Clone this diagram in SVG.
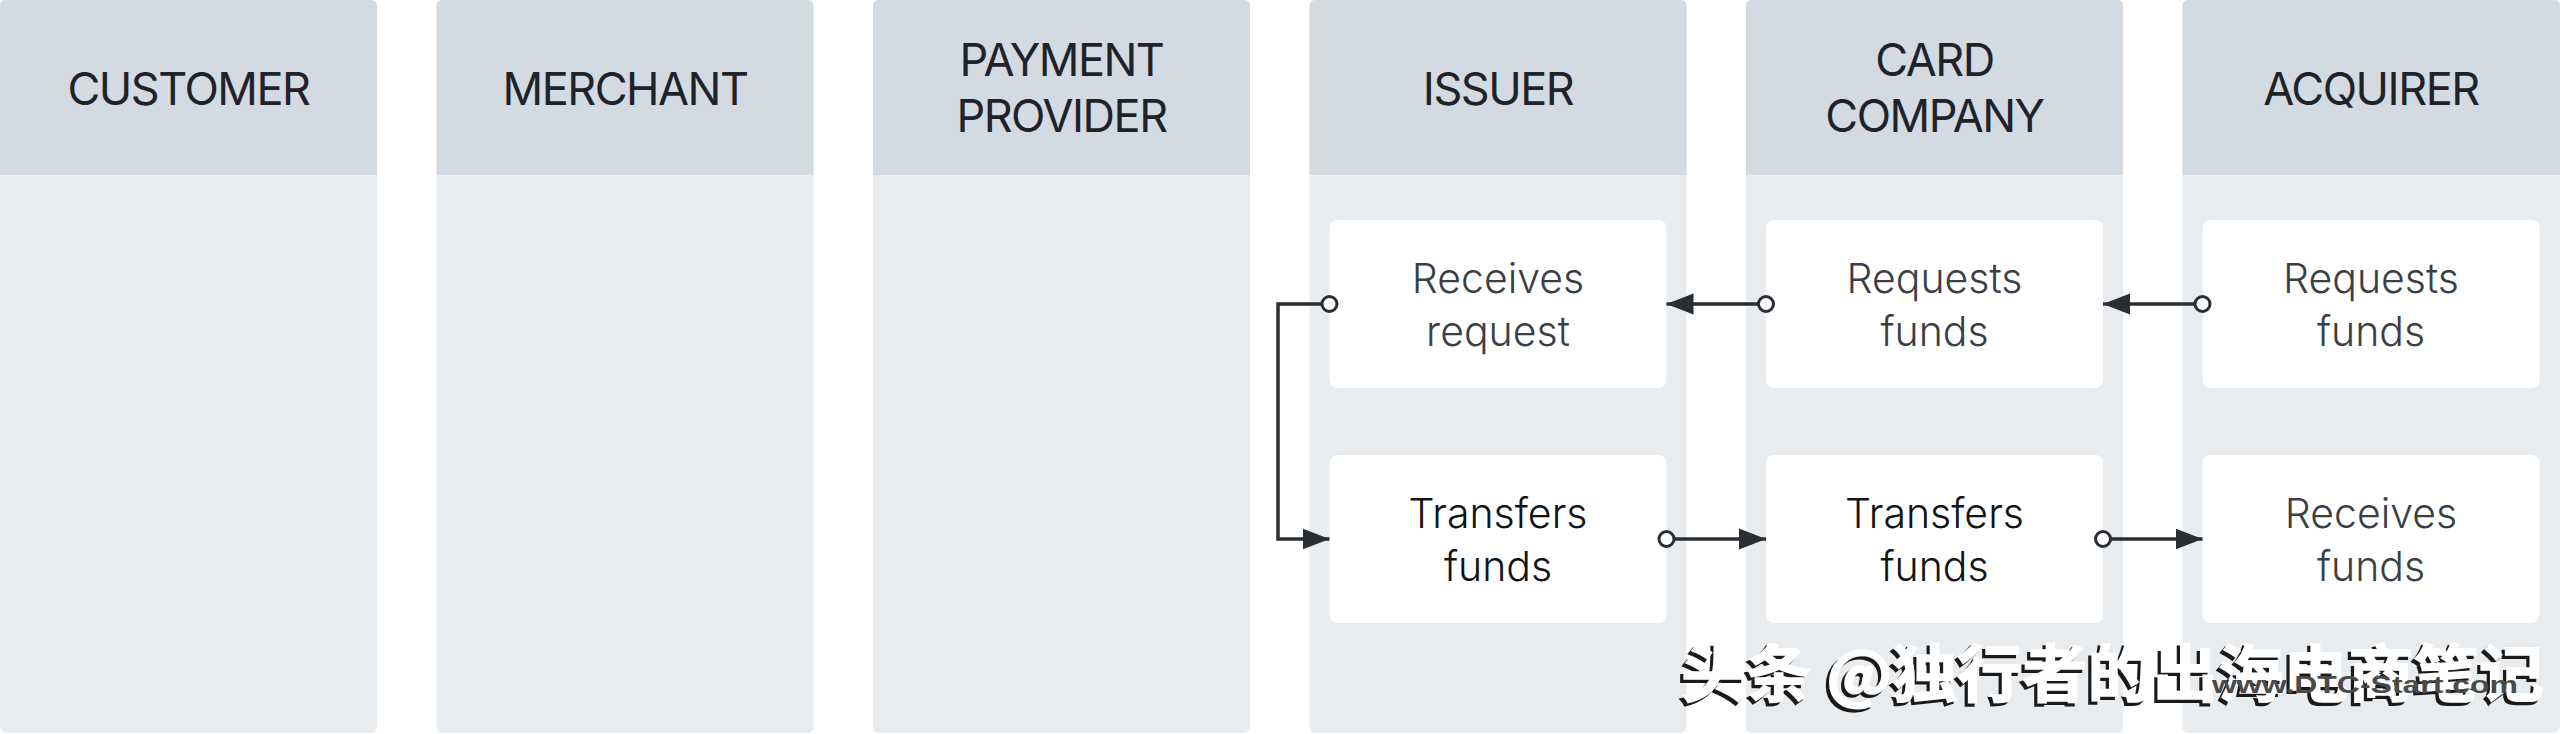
<svg xmlns="http://www.w3.org/2000/svg" width="2560" height="734" viewBox="0 0 2560 734">
<style>
.body{fill:#e8ecef}
.head{fill:#d3dae2}
.ht{font-family:Inter,"Liberation Sans",sans-serif;font-size:45px;letter-spacing:-1.5px;fill:#1f2329;text-anchor:middle}
.node{fill:#ffffff}
.nt{font-family:Inter,"Liberation Sans",sans-serif;font-size:41px;font-weight:300;text-anchor:middle}
.light{fill:#3a3f46}
.dark{fill:#111316}
.conn{fill:none;stroke:#2a2e33;stroke-width:3.5}
.wm{font-family:"Noto Sans CJK SC","Noto Sans",sans-serif;font-size:62px;font-weight:700}
</style>
<defs>
<marker id="arrow" markerUnits="userSpaceOnUse" markerWidth="28" markerHeight="22" refX="27" refY="11" orient="auto">
<path d="M0,0.5 L27,11 L0,21.5 Z" fill="#2a2e33"/>
</marker>
<marker id="dot" markerUnits="userSpaceOnUse" markerWidth="22" markerHeight="22" refX="11" refY="11" orient="auto">
<circle cx="11" cy="11" r="7.5" fill="#ffffff" stroke="#2a2e33" stroke-width="3"/>
</marker>
</defs>

<g id="lane-customer">
<rect class="body" x="0" y="0" width="377" height="733" rx="6"/>
<path class="head" d="M0,175 V6 Q0,0 6,0 H371 Q377,0 377,6 V175 Z"/>
<text class="ht" x="188.5" y="105">CUSTOMER</text>
</g>
<g id="lane-merchant">
<rect class="body" x="436.5" y="0" width="377" height="733" rx="6"/>
<path class="head" d="M436.5,175 V6 Q436.5,0 442.5,0 H807.5 Q813.5,0 813.5,6 V175 Z"/>
<text class="ht" x="625" y="105">MERCHANT</text>
</g>
<g id="lane-payment-provider">
<rect class="body" x="873" y="0" width="377" height="733" rx="6"/>
<path class="head" d="M873,175 V6 Q873,0 879,0 H1244 Q1250,0 1250,6 V175 Z"/>
<text class="ht" x="1061.5" y="76">PAYMENT</text>
<text class="ht" x="1061.5" y="132">PROVIDER</text>
</g>
<g id="lane-issuer">
<rect class="body" x="1309.5" y="0" width="377" height="733" rx="6"/>
<path class="head" d="M1309.5,175 V6 Q1309.5,0 1315.5,0 H1680.5 Q1686.5,0 1686.5,6 V175 Z"/>
<text class="ht" x="1498" y="105">ISSUER</text>
</g>
<g id="lane-card-company">
<rect class="body" x="1746" y="0" width="377" height="733" rx="6"/>
<path class="head" d="M1746,175 V6 Q1746,0 1752,0 H2117 Q2123,0 2123,6 V175 Z"/>
<text class="ht" x="1934.5" y="76">CARD</text>
<text class="ht" x="1934.5" y="132">COMPANY</text>
</g>
<g id="lane-acquirer">
<rect class="body" x="2182.5" y="0" width="377.5" height="733" rx="6"/>
<path class="head" d="M2182.5,175 V6 Q2182.5,0 2188.5,0 H2554 Q2560,0 2560,6 V175 Z"/>
<text class="ht" x="2371" y="105">ACQUIRER</text>
</g>

<g id="node-issuer-receives">
<rect class="node" x="1329.5" y="220" width="337" height="168" rx="8"/>
<text class="nt light" x="1498" y="293">Receives</text>
<text class="nt light" x="1498" y="346">request</text>
</g>
<g id="node-issuer-transfers">
<rect class="node" x="1329.5" y="455" width="337" height="168" rx="8"/>
<text class="nt dark" x="1498" y="528">Transfers</text>
<text class="nt dark" x="1498" y="581">funds</text>
</g>
<g id="node-card-requests">
<rect class="node" x="1766" y="220" width="337" height="168" rx="8"/>
<text class="nt light" x="1934.5" y="293">Requests</text>
<text class="nt light" x="1934.5" y="346">funds</text>
</g>
<g id="node-card-transfers">
<rect class="node" x="1766" y="455" width="337" height="168" rx="8"/>
<text class="nt dark" x="1934.5" y="528">Transfers</text>
<text class="nt dark" x="1934.5" y="581">funds</text>
</g>
<g id="node-acquirer-requests">
<rect class="node" x="2202.5" y="220" width="337" height="168" rx="8"/>
<text class="nt light" x="2371" y="293">Requests</text>
<text class="nt light" x="2371" y="346">funds</text>
</g>
<g id="node-acquirer-receives">
<rect class="node" x="2202.5" y="455" width="337" height="168" rx="8"/>
<text class="nt light" x="2371" y="528">Receives</text>
<text class="nt light" x="2371" y="581">funds</text>
</g>

<g id="connectors">
<path class="conn" d="M1329.5,304 H1278 V539 H1329.5" marker-start="url(#dot)" marker-end="url(#arrow)"/>
<path class="conn" d="M1766,304 H1666.5" marker-start="url(#dot)" marker-end="url(#arrow)"/>
<path class="conn" d="M2202.5,304 H2103" marker-start="url(#dot)" marker-end="url(#arrow)"/>
<path class="conn" d="M1666.5,539 H1766" marker-start="url(#dot)" marker-end="url(#arrow)"/>
<path class="conn" d="M2103,539 H2202.5" marker-start="url(#dot)" marker-end="url(#arrow)"/>
</g>

<g id="watermark">
<text class="wm" x="1678" y="700" fill="#1a1a1a" stroke="#1a1a1a" stroke-width="2" textLength="863" lengthAdjust="spacingAndGlyphs">头条 @独行者的出海电商笔记</text>
<text class="wm" x="1681" y="697" fill="#ffffff" stroke="#ffffff" stroke-width="1.5" textLength="863" lengthAdjust="spacingAndGlyphs">头条 @独行者的出海电商笔记</text>
<text x="2212" y="693" font-family="'Liberation Sans',sans-serif" font-size="24" font-weight="700" fill="#4a4a4a" textLength="306" lengthAdjust="spacingAndGlyphs">www.DTC-Start.com</text>
</g>
</svg>
